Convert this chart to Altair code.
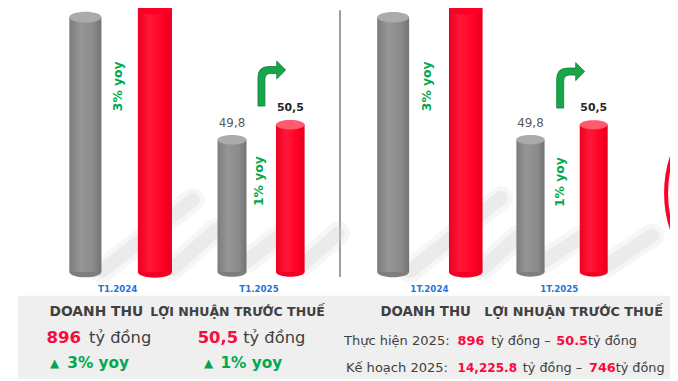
import altair as alt
import pandas as pd

# ------------------------------------------------------------------ data
metrics = ["DOANH THU", "LỢI NHUẬN TRƯỚC THUẾ"]
periods_left = ["T1.2024", "T1.2025"]
periods_right = ["1T.2024", "1T.2025"]
revenue = [868.1, 896.0]      # tỷ đồng: prior period, current period
profit = [49.8, 50.5]         # tỷ đồng: prior period, current period
yoy = [3, 1]                  # % growth year on year
actual_2025 = [896, 50.5]     # thực hiện 2025
plan_2025 = [14225.8, 746]    # kế hoạch 2025

# ------------------------------------------------------------------ layout / style
FONT = "DejaVu Sans"
GREY_CAP = "#ababab"
RED, RED_CAP = "#ff0026", "#ff5a6e"
RED_TXT = "#fb0a3c"
GREEN = "#00a94f"
DARK = "#404040"
BLUE = "#1f74dc"

BASE_PX = 273.0                     # pixel row of bar bases (reference coords)
REV_K = 258.0 / revenue[0]          # px per tỷ (revenue bars)
PROF_K = 15.0 / 0.7                 # px per tỷ (profit bars, broken axis)
PROF_BASE = profit[0] - 134.0 / PROF_K

XS = alt.Scale(domain=[8, 678], nice=False, zero=False)
YL = alt.Scale(domain=[381, 8], nice=False, zero=False)
Y_REV = alt.Scale(domain=[(BASE_PX - 381) / REV_K, (BASE_PX - 8) / REV_K], nice=False, zero=False)
Y_PROF = alt.Scale(domain=[PROF_BASE + (BASE_PX - 381) / PROF_K, PROF_BASE + (BASE_PX - 8) / PROF_K],
                   nice=False, zero=False)

bar_centres = [[86.3, 156.7, 234.7, 293.7], [397.8, 471.3, 536.8, 600.8]]
bar_widths = [[32.5, 34.5, 29.3, 29.0], [32.3, 34.0, 28.5, 28.3]]

ELLIPSE = "M-1,0A1,0.33,0,1,0,1,0A1,0.33,0,1,0,-1,0Z"
ARROW = ("M-0.609,0.989L-0.609,-0.272Q-0.609,-0.75,-0.130,-0.75L0.217,-0.75L0.217,-0.989"
         "L0.609,-0.598L0.217,-0.207L0.217,-0.446L-0.043,-0.446Q-0.304,-0.446,-0.304,-0.185"
         "L-0.304,0.989Z")


def comma(v):
    return f"{v:.1f}".replace(".", ",")


rows = []
for p in range(2):
    for i in range(4):
        metric = "rev" if i < 2 else "prof"
        k = i % 2
        v = revenue[k] if metric == "rev" else profit[k]
        cx, w = bar_centres[p][i], bar_widths[p][i]
        rows.append(dict(metric=metric, kind=("grey" if k == 0 else "red"), value=v,
                         base=(0.0 if metric == "rev" else PROF_BASE),
                         cx=cx, x0=cx - w / 2, x1=cx + w / 2, sz=w * w, label=comma(v)))
bars = pd.DataFrame(rows)


def grad(stops):
    return alt.Gradient(gradient="linear", x1=0, x2=1, y1=0, y2=0,
                        stops=[alt.GradientStop(color=c, offset=o) for o, c in stops])


GREY_GRAD = grad([(0, "#7c7c7c"), (0.35, "#969696"), (0.75, "#8a8a8a"), (1, "#727272")])
RED_GRAD = grad([(0, "#ec0022"), (0.35, "#ff1838"), (0.75, "#ff0026"), (1, "#e2001f")])

layers = []

# --- grey info box, separator, shadows, ring (layout scale)
box = pd.DataFrame([dict(x=18, x2=678, y=297, y2=381)])
layers.append(alt.Chart(box).mark_rect(fill="#efefef").encode(
    x=alt.X("x:Q", scale=XS, axis=None), x2="x2:Q",
    y=alt.Y("y:Q", scale=YL, axis=None), y2="y2:Q"))

sep = pd.DataFrame([dict(x=344, y=8, y2=278)])
layers.append(alt.Chart(sep).mark_rule(color="#3a3a3a", strokeWidth=1).encode(
    x=alt.X("x:Q", scale=XS, axis=None),
    y=alt.Y("y:Q", scale=YL, axis=None), y2="y2:Q"))

shadow_segs = [
    [(103, 272), (195, 200)], [(174, 270), (219, 230)], [(250, 262), (281, 238)], [(308, 264), (342, 234)],
    [(415, 272), (507, 198)], [(488, 270), (523, 238)], [(551, 262), (587, 238)], [(615, 266), (660, 236)],
]
sh_rows = []
for s, seg in enumerate(shadow_segs):
    for o, (x, y) in enumerate(seg):
        sh_rows.append(dict(seg=s, o=o, x=x, y=y))
sh_chart = alt.Chart(pd.DataFrame(sh_rows))
for wdt, op in ((24, 0.18), (14, 0.3)):
    layers.append(sh_chart.mark_line(color="#cfcfcf", strokeWidth=wdt, opacity=op, strokeCap="round").encode(
        x=alt.X("x:Q", scale=XS, axis=None), y=alt.Y("y:Q", scale=YL, axis=None),
        detail="seg:N", order="o:Q"))

ring = pd.DataFrame([dict(x=794, y=193)])
layers.append(alt.Chart(ring).mark_point(
    shape="circle", size=240 * 240, filled=False, stroke=RED, strokeWidth=4, opacity=1,
    fill="#fff3f5", fillOpacity=1).encode(
    x=alt.X("x:Q", scale=XS, axis=None), y=alt.Y("y:Q", scale=YL, axis=None)))

# --- bars
for metric, ys in (("rev", Y_REV), ("prof", Y_PROF)):
    for kind, gr, side, cap in (("grey", GREY_GRAD, "#7e7e7e", GREY_CAP), ("red", RED_GRAD, "#f50024", RED_CAP)):
        if metric == "rev" and kind == "red":
            cap = "#fc0026"   # top of this bar runs off the picture
        d = bars[(bars.metric == metric) & (bars.kind == kind)]
        base = alt.Chart(d)
        layers.append(base.mark_point(shape=ELLIPSE, filled=True, fill=side, opacity=1, strokeWidth=0).encode(
            x=alt.X("cx:Q", scale=XS, axis=None), y=alt.Y("base:Q", scale=ys, axis=None),
            size=alt.Size("sz:Q", scale=None)))
        layers.append(base.mark_rect(fill=gr).encode(
            x=alt.X("x0:Q", scale=XS, axis=None), x2="x1:Q",
            y=alt.Y("value:Q", scale=ys, axis=None), y2="base:Q"))
        layers.append(base.mark_point(shape=ELLIPSE, filled=True, fill=cap, opacity=1, strokeWidth=0).encode(
            x=alt.X("cx:Q", scale=XS, axis=None), y=alt.Y("value:Q", scale=ys, axis=None),
            size=alt.Size("sz:Q", scale=None)))
        if metric == "prof":
            if kind == "grey":
                lab = base.mark_text(font=FONT, fontSize=12, color="#595959", dy=-16.5, baseline="middle")
            else:
                lab = base.mark_text(font=FONT, fontSize=11, fontWeight="bold", color="#262626", dy=-17,
                                     baseline="middle")
            layers.append(lab.encode(x=alt.X("cx:Q", scale=XS, axis=None),
                                     y=alt.Y("value:Q", scale=ys, axis=None), text="label:N"))

# --- arrows
arrows = pd.DataFrame([dict(x=275, y=82.25, s=46 * 46), dict(x=577.5, y=84, s=46.6 * 46.6)])
layers.append(alt.Chart(arrows).mark_point(shape=ARROW, filled=True, fill="#17a64a", stroke="#0b7f36",
                                           strokeWidth=0.8, opacity=1).encode(
    x=alt.X("x:Q", scale=XS, axis=None), y=alt.Y("y:Q", scale=YL, axis=None),
    size=alt.Size("s:Q", scale=None)))


# --- texts
def T(text, x, y, fs, c):
    return dict(text=text, x=x, y=y, fs=fs, c=c)


yoy_txt = [f"{v}% yoy" for v in yoy]
rot = [T(yoy_txt[0], 119.5, 85, 12.5, GREEN), T(yoy_txt[1], 262.5, 181, 12.5, GREEN),
       T(yoy_txt[0], 432.5, 85, 12.5, GREEN), T(yoy_txt[1], 566.5, 182, 12.5, GREEN)]
centre_bold = [T(periods_left[0], 119, 290, 8.8, BLUE), T(periods_left[1], 262, 290, 8.8, BLUE),
               T(periods_right[0], 434.5, 290, 8.8, BLUE), T(periods_right[1], 566, 290, 8.8, BLUE),
               T("▲", 55, 365, 12, GREEN), T("▲", 211, 365, 12, GREEN)]
left_bold = [
    T(metrics[0], 50, 313, 14, DARK), T(metrics[1], 152, 313, 12.7, DARK),
    T(f"{revenue[1]:.0f}", 47, 340, 16.8, RED_TXT), T(comma(profit[1]), 200, 340, 16.6, RED_TXT),
    T(yoy_txt[0], 68, 365, 15.5, GREEN), T(yoy_txt[1], 223, 365, 15.5, GREEN),
    T(metrics[0], 385, 313, 13.5, DARK), T(metrics[1], 490, 313, 13, DARK),
    T(f"{actual_2025[0]}", 463, 343, 13, RED_TXT), T(f"{actual_2025[1]}", 563, 343, 13, RED_TXT),
    T(f"{plan_2025[0]:,.1f}", 463, 370.5, 12.2, RED_TXT), T(f"{plan_2025[1]}", 596, 370.5, 13, RED_TXT),
]
left_reg = [
    T("tỷ đồng", 90, 340, 16.5, DARK), T("tỷ đồng", 246, 340, 16.5, DARK),
    T("Thực hiện 2025:", 348, 343, 13.2, DARK), T("tỷ đồng –", 497, 343, 13, DARK),
    T("tỷ đồng", 595, 343, 13, DARK),
    T("Kế hoạch 2025:", 350, 370.5, 13.2, DARK), T("tỷ đồng –", 529, 370.5, 13, DARK),
    T("tỷ đồng", 623, 370.5, 13, DARK),
]


def text_layer(items, **mk):
    return alt.Chart(pd.DataFrame(items)).mark_text(font=FONT, baseline="middle", **mk).encode(
        x=alt.X("x:Q", scale=XS, axis=None), y=alt.Y("y:Q", scale=YL, axis=None),
        text="text:N", size=alt.Size("fs:Q", scale=None), color=alt.Color("c:N", scale=None))


layers.append(text_layer(rot, fontWeight="bold", align="center", angle=270))
layers.append(text_layer(centre_bold, fontWeight="bold", align="center"))
layers.append(text_layer(left_bold, fontWeight="bold", align="left"))
layers.append(text_layer(left_reg, align="left"))

chart = alt.layer(*layers).resolve_scale(y="independent").properties(
    width=670, height=373, padding=0, autosize=alt.AutoSizeParams(type="none"),
    background="white"
).configure_view(stroke=None)

chart.save("out.html", embed_options={"renderer": "svg", "actions": False})
